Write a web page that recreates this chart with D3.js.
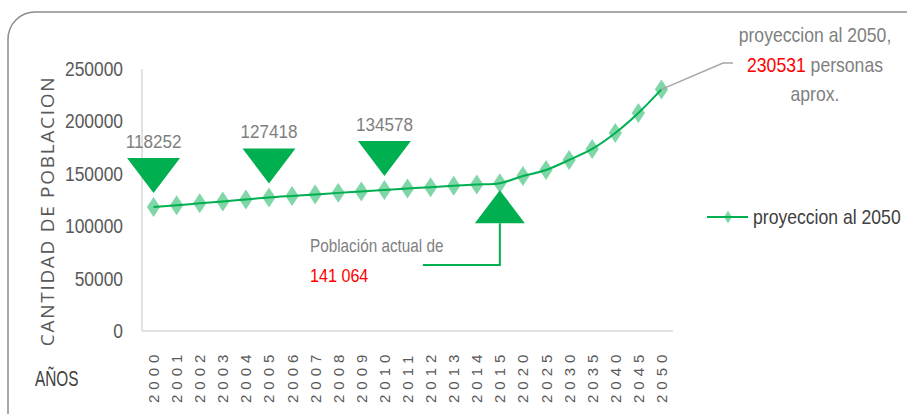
<!DOCTYPE html>
<html lang="es">
<head>
<meta charset="utf-8">
<title>Proyeccion de poblacion al 2050</title>
<script src="https://cdn.jsdelivr.net/npm/d3@7"></script>
<style>
  body { margin: 0; background: #fff; }
  text { font-family: "Liberation Sans", Arial, sans-serif; }
</style>
</head>
<body>
<script>
// data (intermediate years estimated)
var years = ["2000","2001","2002","2003","2004","2005","2006","2007","2008","2009","2010",
             "2011","2012","2013","2014","2015","2020","2025","2030","2035","2040","2045","2050"];
var poblacion = [118252,120000,121800,123600,125500,127418,128900,130300,131800,133200,134578,
                 135900,137200,138500,139800,141064,147900,153600,163200,173700,188900,208000,230531];
var yTicks = [0, 50000, 100000, 150000, 200000, 250000];
var markedDown = ["2000","2005","2010"];   // big down-triangles with value labels
var actualYear = "2015";
var seriesName = "proyeccion al 2050";

var W = 907, H = 414;
var green = "#00b050";

var svg = d3.select("body").append("svg")
    .attr("width", W).attr("height", H);

// narrow-ish text: no Calibri here, so squeeze Liberation Sans sideways
function label(px, py, str, size, fill, anchor, sx) {
  return svg.append("text")
     .attr("transform", "translate(" + px + "," + py + ") scale(" + (sx || 0.87) + ",1)")
     .attr("text-anchor", anchor || "start")
     .attr("font-size", size + "px")
     .attr("fill", fill)
     .text(str);
}

// outer rounded frame
svg.append("rect")
    .attr("x", 8).attr("y", 12)
    .attr("width", W + 20).attr("height", H + 20)
    .attr("rx", 27).attr("ry", 27)
    .attr("fill", "none").attr("stroke", "#8c8c8c").attr("stroke-width", 1.5);

var x = d3.scaleBand().domain(years).range([142, 673]);
var y = d3.scaleLinear().domain([0, 250000]).range([331, 69]);
var cx = function(d) { return x(d) + x.bandwidth() / 2; };

// axis lines
svg.append("line").attr("x1", 142).attr("x2", 142).attr("y1", 69).attr("y2", 331)
    .attr("stroke", "#d9d9d9").attr("stroke-width", 1.5);
svg.append("line").attr("x1", 142).attr("x2", 673).attr("y1", 331).attr("y2", 331)
    .attr("stroke", "#d9d9d9").attr("stroke-width", 1.5);

// y tick labels
yTicks.forEach(function(t) {
  label(123, y(t) + 7, t, 20, "#595959", "end", 0.87);
});

// x tick labels, rotated
svg.selectAll("text.xtick")
   .data(years)
   .enter()
   .append("text")
   .attr("class", "xtick")
   .attr("transform", function(d) { return "translate(" + (cx(d) + 5.5) + ",403) rotate(-90)"; })
   .attr("font-size", "15px")
   .attr("letter-spacing", "5px")
   .attr("fill", "#595959")
   .text(function(d) { return d; });

// axis titles
svg.append("text")
   .attr("transform", "translate(54,211) rotate(-90)")
   .attr("text-anchor", "middle")
   .attr("font-size", "19px")
   .attr("letter-spacing", "1.7px")
   .style("font-family", "'Open Sans', sans-serif")
   .attr("fill", "#595959")
   .text("CANTIDAD DE POBLACION");

label(35, 386, "AÑOS", 22, "#404040", "start", 0.7);

// line + markers
var lineGen = d3.line()
    .x(function(d, i) { return cx(years[i]); })
    .y(function(d) { return y(d); })
    .curve(d3.curveCatmullRom.alpha(0.5));

var diamond = d3.symbol().type(d3.symbolDiamond).size(115);

svg.selectAll("path.marker")
   .data(poblacion)
   .enter()
   .append("path")
   .attr("class", "marker")
   .attr("d", diamond)
   .attr("transform", function(d, i) { return "translate(" + cx(years[i]) + "," + y(d) + ") scale(1.15,1)"; })
   .attr("fill", green)
   .attr("fill-opacity", 0.5);

svg.append("path")
   .datum(poblacion)
   .attr("d", lineGen)
   .attr("fill", "none")
   .attr("stroke", green)
   .attr("stroke-width", 2);

// big down triangles with labels
var downTri = function(px, top) {
  return "M" + (px - 26.5) + "," + top + "L" + (px + 26.5) + "," + top + "L" + px + "," + (top + 35) + "Z";
};
markedDown.forEach(function(yr) {
  var v = poblacion[years.indexOf(yr)];
  var top = y(v) - 49;
  svg.append("path")
     .attr("d", downTri(cx(yr), top))
     .attr("fill", green);
  label(cx(yr), top - 10, v, 19, "#7f7f7f", "middle", 0.9);
});

// up triangle + callout for current population
var ax = cx(actualYear), av = poblacion[years.indexOf(actualYear)];
var apex = y(av) + 7;
svg.append("path")
   .attr("d", "M" + ax + "," + apex + "L" + (ax + 25) + "," + (apex + 33) + "L" + (ax - 25) + "," + (apex + 33) + "Z")
   .attr("fill", green);
svg.append("polyline")
   .attr("points", (ax - 77) + ",265 " + ax + ",265 " + ax + "," + (apex + 33))
   .attr("fill", "none")
   .attr("stroke", green)
   .attr("stroke-width", 2);
label(310, 252, "Población actual de", 18, "#7f7f7f", "start", 0.85);
label(310, 282, "141 064", 19, "#ff0000", "start", 0.85);

// 2050 callout
var lastYr = years[years.length - 1], lastV = poblacion[poblacion.length - 1];
svg.append("polyline")
   .attr("points", cx(lastYr) + "," + y(lastV) + " 723,63 733,63")
   .attr("fill", "none")
   .attr("stroke", "#a6a6a6")
   .attr("stroke-width", 1.5);
label(815, 42, "proyeccion al 2050,", 20, "#7f7f7f", "middle", 0.88);
var l2 = label(815, 72, "", 20, "#7f7f7f", "middle", 0.88);
l2.append("tspan").attr("fill", "#ff0000").text(lastV);
l2.append("tspan").text(" personas");
label(815, 101, "aprox.", 20, "#7f7f7f", "middle", 0.88);

// legend
svg.append("line").attr("x1", 707).attr("x2", 748).attr("y1", 217).attr("y2", 217)
   .attr("stroke", green).attr("stroke-width", 2);
svg.append("path")
   .attr("d", d3.symbol().type(d3.symbolDiamond).size(50))
   .attr("transform", "translate(728,217)")
   .attr("fill", green).attr("fill-opacity", 0.5);
label(753, 224, seriesName, 20, "#404040", "start", 0.88);
</script>
</body>
</html>
